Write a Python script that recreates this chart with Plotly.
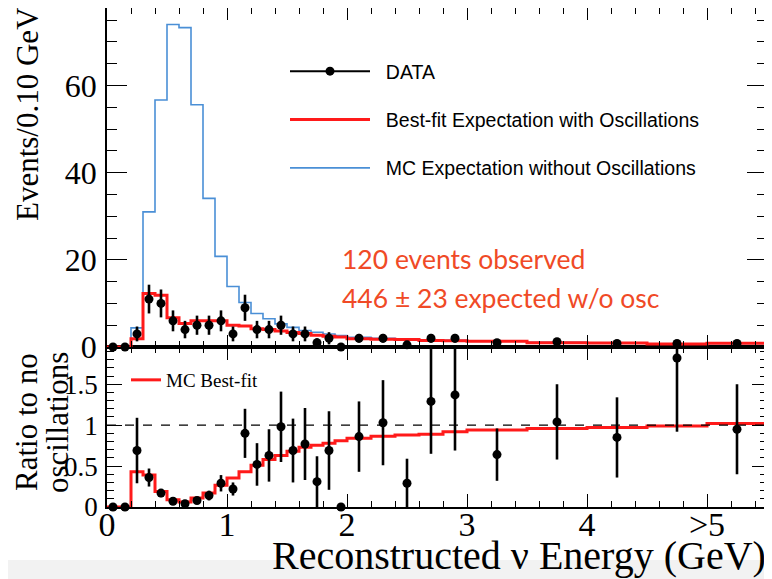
import plotly.graph_objects as go

# ---------------- data ----------------
bin_edges = [0.0, 0.1, 0.2, 0.3, 0.4, 0.5, 0.6, 0.7, 0.8, 0.9, 1.0,
             1.1, 1.2, 1.3, 1.4, 1.5, 1.6, 1.7, 1.8, 1.9, 2.0,
             2.2, 2.4, 2.6, 2.8, 3.0, 3.5, 4.0, 4.5, 5.0, 5.5]

# events per 0.10 GeV (top panel)
data_events = [0, 0, 3, 11, 10, 6, 4, 5, 5, 6, 3, 9, 4, 4, 5, 3, 3, 1, 2, 0,
               2, 2, 0.5, 2, 2, 1.0, 1.2, 0.8, 0.8, 0.8]
data_errors = [0, 0, 1.7, 3.3, 3.2, 2.4, 2.0, 2.2, 2.2, 2.4, 1.7, 3.0, 2.0, 2.0, 2.2,
               1.7, 1.7, 1.0, 1.4, 0, 1.0, 1.0, 0.5, 1.0, 1.0, 0.45, 0.5, 0.4, 0.4, 0.4]
best_fit = [0, 0, 1.9, 12.3, 11.9, 6.7, 5.4, 6.0, 6.0, 6.0, 5.0, 4.8, 4.2, 4.0, 3.7,
            3.3, 3.1, 2.7, 2.45, 2.3, 1.9, 1.76, 1.7, 1.5, 1.45, 1.3, 1.0, 0.92, 0.7, 0.85]
no_osc = [0, 0, 4.4, 31.0, 56.7, 74.0, 73.3, 55.6, 34.1, 20.8, 13.9, 10.2, 7.7, 6.5, 5.3,
          4.5, 3.8, 3.4, 3.0, 2.6, 2.25, 2.0, 1.9, 1.65, 1.55, 1.4, 1.08, 0.95, 0.72, 0.84]

# ratio to no oscillations (bottom panel)
ratio_data = [0, 0, 0.69, 0.36, 0.17, 0.07, 0.04, 0.08, 0.14, 0.29, 0.22, 0.90, 0.52, 0.63,
              0.98, 0.69, 0.77, 0.31, 0.69, 0, 0.86, 1.03, 0.29, 1.29, 1.37,
              0.64, 1.04, 0.85, 1.82, 0.95]
ratio_errors = [0, 0, 0.40, 0.11, 0.05, 0.03, 0.02, 0.04, 0.06, 0.10, 0.08, 0.30, 0.26, 0.32,
                0.43, 0.39, 0.44, 0.31, 0.48, 0, 0.43, 0.52, 0.30, 0.64, 0.68,
                0.32, 0.46, 0.49, 0.90, 0.55]
ratio_best_fit = [0, 0, 0.43, 0.39, 0.19, 0.09, 0.06, 0.11, 0.17, 0.265, 0.355, 0.43, 0.51,
                  0.58, 0.63, 0.68, 0.73, 0.755, 0.78, 0.81, 0.84, 0.865, 0.88, 0.89, 0.92,
                  0.94, 0.96, 0.97, 0.99, 1.02]
ratio_reference = 1.0

x_tick_vals = [0, 1, 2, 3, 4, 5]
x_tick_text = ["0", "1", "2", "3", "4", ">5"]
top_tick_vals = [0, 20, 40, 60]
top_tick_text = ["0", "20", "40", "60"]
bottom_tick_vals = [0, 0.5, 1, 1.5]
bottom_tick_text = ["0", "0.5", "1", "1.5"]

# ---------------- derived ----------------
centers = [(a + b) / 2 for a, b in zip(bin_edges[:-1], bin_edges[1:])]


def step(values):
    return list(values) + [values[-1]]


SERIF = "Liberation Serif"
SANS = "Liberation Sans"
RED = "#ff1a1a"
BLUE = "#4a8fd6"
NB = "\u00a0\u00a0"  # small gap between legend symbol and label

# the page body has an 8 px default margin: size the figure so it fills the window
OFF = 8
W, H = 772 - OFF, 579 - OFF
ML, MT = 107 - OFF, 8 - OFF
MR = W - (767 - OFF)
MB = H - (507 - OFF)
PW, PH = W - ML - MR, H - MT - MB
split = 160 / PH


def px(x):
    """window pixel x -> paper coordinate"""
    return (x - OFF - ML) / PW


def py(y):
    """window pixel y -> paper coordinate"""
    return (H - MB - (y - OFF)) / PH


fig = go.Figure()

# top panel
fig.add_trace(go.Scatter(x=bin_edges, y=step(no_osc), mode="lines", line_shape="hv",
                         line=dict(color=BLUE, width=1.6), name=NB + "MC Expectation without Oscillations",
                         xaxis="x2", yaxis="y2", legend="legend", legendrank=3, legendgroup="c"))
fig.add_trace(go.Scatter(x=bin_edges, y=step(best_fit), mode="lines", line_shape="hv",
                         line=dict(color=RED, width=3), name=NB + "Best-fit Expectation with Oscillations",
                         xaxis="x2", yaxis="y2", legend="legend", legendrank=2, legendgroup="b"))
fig.add_trace(go.Scatter(x=centers, y=data_events, mode="markers",
                         marker=dict(color="black", size=9),
                         error_y=dict(type="data", array=data_errors, color="black", thickness=2.6, width=0),
                         cliponaxis=False, showlegend=False, xaxis="x2", yaxis="y2"))
fig.add_trace(go.Scatter(x=[None], y=[None], mode="lines+markers", name=NB + "DATA",
                         line=dict(color="black", width=2), marker=dict(color="black", size=9),
                         xaxis="x2", yaxis="y2", legend="legend", legendrank=1, legendgroup="a"))

# bottom panel
fig.add_trace(go.Scatter(x=bin_edges, y=step(ratio_best_fit), mode="lines", line_shape="hv",
                         line=dict(color=RED, width=3), name="MC Best-fit",
                         xaxis="x", yaxis="y", legend="legend2"))
fig.add_trace(go.Scatter(x=centers, y=ratio_data, mode="markers",
                         marker=dict(color="black", size=9),
                         error_y=dict(type="data", array=ratio_errors, color="black", thickness=2.6, width=0),
                         cliponaxis=False, showlegend=False, xaxis="x", yaxis="y"))

fig.add_shape(type="line", xref="x domain", yref="y", x0=0, x1=1,
              y0=ratio_reference, y1=ratio_reference,
              line=dict(color="black", width=1.2, dash="dash"))

axis_common = dict(showline=True, linecolor="black", linewidth=1.5, mirror="allticks",
                   ticks="inside", tickcolor="black", tickwidth=1.3, showgrid=False,
                   zeroline=False, automargin=False)

fig.update_layout(
    template="none",
    width=W, height=H,
    margin=dict(l=ML, r=MR, t=MT, b=MB, pad=0),
    paper_bgcolor="white", plot_bgcolor="white",
    xaxis=dict(domain=[0, 1], range=[0, 5.5], anchor="y", tickmode="array",
               tickvals=x_tick_vals, ticktext=x_tick_text, ticklen=13,
               tickfont=dict(family=SERIF, size=34, color="black"), ticklabelstandoff=-14,
               minor=dict(tickmode="linear", tick0=0, dtick=0.2, ticklen=6, ticks="inside",
                          tickcolor="black", showgrid=False),
               **axis_common),
    xaxis2=dict(domain=[0, 1], range=[0, 5.5], anchor="y2", matches="x", tickmode="array",
                tickvals=x_tick_vals, showticklabels=False, ticklen=12,
                minor=dict(tickmode="linear", tick0=0, dtick=0.2, ticklen=6, ticks="inside",
                           tickcolor="black", showgrid=False),
                **axis_common),
    yaxis=dict(domain=[0, split], range=[0, 1.955], anchor="x", tickmode="array",
               tickvals=bottom_tick_vals, ticktext=bottom_tick_text, ticklen=15,
               tickfont=dict(family=SERIF, size=27, color="black"), ticklabelstandoff=2,
               minor=dict(tickmode="linear", tick0=0, dtick=0.1, ticklen=7, ticks="inside",
                          tickcolor="black", showgrid=False),
               **axis_common),
    yaxis2=dict(domain=[split, 1], range=[0, 77.8], anchor="x2", tickmode="array",
                tickvals=top_tick_vals, ticktext=top_tick_text, ticklen=20,
                tickfont=dict(family=SERIF, size=32, color="black"), ticklabelstandoff=2,
                minor=dict(tickmode="linear", tick0=0, dtick=5, ticklen=10, ticks="inside",
                           tickcolor="black", showgrid=False),
                **axis_common),
    legend=dict(x=px(285), y=py(52), xanchor="left", yanchor="top", bgcolor="rgba(0,0,0,0)",
                font=dict(family=SANS, size=19.5, color="black"), tracegroupgap=20, itemwidth=80),
    legend2=dict(x=px(126), y=py(361), xanchor="left", yanchor="top", bgcolor="rgba(0,0,0,0)",
                 font=dict(family=SERIF, size=19, color="black"), itemwidth=30),
)

# texts
fig.add_annotation(xref="paper", yref="paper", x=px(27), y=py(114), text="Events/0.10 GeV",
                   textangle=-90, showarrow=False, xanchor="center", yanchor="middle",
                   font=dict(family=SERIF, size=31, color="black"))
fig.add_annotation(xref="paper", yref="paper", x=px(27), y=py(422), text="Ratio to no",
                   textangle=-90, showarrow=False, xanchor="center", yanchor="middle",
                   font=dict(family=SERIF, size=31, color="black"))
fig.add_annotation(xref="paper", yref="paper", x=px(58), y=py(422), text="oscillations",
                   textangle=-90, showarrow=False, xanchor="center", yanchor="middle",
                   font=dict(family=SERIF, size=31, color="black"))
fig.add_annotation(xref="paper", yref="paper", x=px(768), y=py(555),
                   text="Reconstructed \u03bd Energy (GeV)", showarrow=False,
                   xanchor="right", yanchor="middle",
                   font=dict(family=SERIF, size=40, color="black"))
fig.add_annotation(xref="paper", yref="paper", x=px(340), y=py(259), text="120 events observed",
                   showarrow=False, xanchor="left", yanchor="middle",
                   font=dict(family="Lato", size=26.5, color="#f04a26"))
fig.add_annotation(xref="paper", yref="paper", x=px(340), y=py(298),
                   text="446 \u00b1 23 expected w/o osc",
                   showarrow=False, xanchor="left", yanchor="middle",
                   font=dict(family="Lato", size=26.5, color="#f04a26"))

# light grey strip along the bottom of the reference image
fig.add_shape(type="rect", xref="paper", yref="paper", x0=px(OFF), x1=px(772), y0=py(579),
              y1=py(560), fillcolor="#f2f2f2", line=dict(width=0), layer="below")

fig.write_html("out.html")
